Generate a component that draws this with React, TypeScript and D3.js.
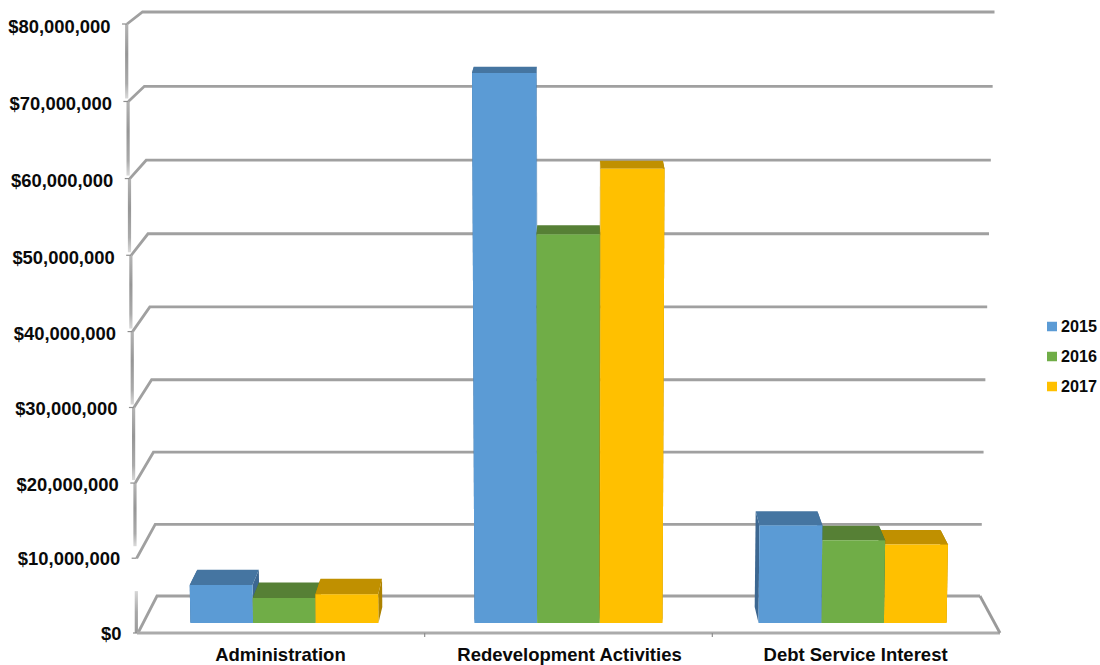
import React from "react";
import * as d3 from "d3";

const categories = ["Administration", "Redevelopment Activities", "Debt Service Interest"];
const categoryLabelNudge = [-4, 1, 3];
const years = ["2015", "2016", "2017"];
const values2015 = [5150000, 73200000, 13200000];
const values2016 = [3400000, 52000000, 11200000];
const values2017 = [3900000, 60650000, 10600000];
const seriesValues = [values2015, values2016, values2017];
const valueTicks = [0, 10000000, 20000000, 30000000, 40000000, 50000000, 60000000, 70000000, 80000000];

const frontColors = ["#5B9BD5", "#70AD47", "#FFC000"];
const topColors = ["#4575A1", "#568035", "#C09000"];
const sideColors = ["#3C6791", "#47692C", "#AD8200"];
const gridColor = "#A0A0A0";

const FONT = "'Liberation Sans', Arial, sans-serif";

// Depths within the 3D box: 0 is the front edge of the floor, 1 the back wall.
const BAR_FRONT = 0.27;
const BAR_BACK = 0.7;

const valueScale = d3.scaleLinear().domain([0, 80000000]).range([0, 1]);
const easeHeight = (t: number) => (t * 0.98) / (1 - 0.02 * t);

const yFront = d3.scaleLinear().domain([0, 1]).range([633, 24]);
const yBack = d3.scaleLinear().domain([0, 1]).range([596, 12]);
const halfFront = d3.scaleLinear().domain([0, 1]).range([431.5, 442.5]);
const halfBack = d3.scaleLinear().domain([0, 1]).range([411.5, 426]);
const centerX = 568.5;

// Project a point (u along the category axis, value, depth) on to the page.
function project(u: number, value: number, depth: number): [number, number] {
  const t = easeHeight(valueScale(value));
  const y = yFront(t) + (yBack(t) - yFront(t)) * depth;
  const half = halfFront(t) + (halfBack(t) - halfFront(t)) * depth;
  return [centerX + (u * 2 - 1) * half, y];
}

const outerBand = d3.scaleBand<string>().domain(categories).range([0, 1]);
const innerBand = d3
  .scaleBand<string>()
  .domain(years)
  .range([outerBand.bandwidth() * 0.169, outerBand.bandwidth() * 0.831]);

const legendY = d3.scaleLinear().domain([0, 2]).range([326.5, 386.5]);
// Baseline offset of the value labels, which sit a little lower on the taller ticks.
const labelDrop = d3.scaleLinear().domain([0, 80000000]).range([7, 9]);

const pathOf = (points: [number, number][]) => d3.line()(points) + "Z";
const money = (v: number) => "$" + d3.format(",")(v);

function Bar({ cat, series }: { cat: number; series: number }) {
  const u0 = outerBand(categories[cat])! + innerBand(years[series])!;
  const u1 = u0 + innerBand.bandwidth();
  const v = seriesValues[series][cat];
  const fbl = project(u0, 0, BAR_FRONT);
  const fbr = project(u1, 0, BAR_FRONT);
  const ftl = project(u0, v, BAR_FRONT);
  const ftr = project(u1, v, BAR_FRONT);
  const btl = project(u0, v, BAR_BACK);
  const btr = project(u1, v, BAR_BACK);
  const bbl = project(u0, 0, BAR_BACK);
  const bbr = project(u1, 0, BAR_BACK);
  return (
    <g>
      <path d={pathOf([fbl, ftl, btl, bbl])} fill={sideColors[series]} />
      <path d={pathOf([fbr, ftr, btr, bbr])} fill={sideColors[series]} />
      <path d={pathOf([ftl, ftr, btr, btl])} fill={topColors[series]} />
      <path d={pathOf([fbl, fbr, ftr, ftl])} fill={frontColors[series]} />
    </g>
  );
}

export default function App() {
  const floorLeft = project(0, 0, 0);
  const floorRight = project(1, 0, 0);
  const floorBackRight = project(1, 0, 1);
  // Bars farther from the centre are painted first so nearer ones overlap them.
  const barOrder: [number, number][] = [
    [0, 0], [0, 1], [0, 2],
    [1, 0], [1, 1], [1, 2],
    [2, 2], [2, 1], [2, 0],
  ];
  return (
    <svg
      width={1100}
      height={665}
      style={{ position: "absolute", left: 0, top: 0, background: "#fff" }}
      fontFamily={FONT}
    >
      <defs>
        <linearGradient id="axisFade" x1="0" y1="0" x2="0" y2="1">
          <stop offset="0" stopColor="#B4B4B4" />
          <stop offset="0.4" stopColor="#969696" />
          <stop offset="0.8" stopColor="#AAAAAA" />
          <stop offset="1" stopColor="#DADADA" />
        </linearGradient>
        <linearGradient id="axisFadeUp" x1="0" y1="1" x2="0" y2="0">
          <stop offset="0" stopColor="#9A9A9A" />
          <stop offset="0.5" stopColor="#A8A8A8" />
          <stop offset="1" stopColor="#D6D6D6" />
        </linearGradient>
      </defs>

      {valueTicks.map((tick) => {
        const a = project(0, tick, 0);
        const b = project(0, tick, 1);
        const c = project(1, tick, 1);
        return (
          <path
            key={tick}
            d={d3.line()([[a[0] + 1, a[1]], b, c])!}
            fill="none"
            stroke={gridColor}
            strokeWidth={2.8}
          />
        );
      })}

      {/* Wall edge: one faded strip per interval; the two lowest stop short of a tick. */}
      {valueTicks.slice(1).map((tick, i) => {
        const top = project(0, tick, 0);
        const bottom = project(0, valueTicks[i], 0);
        const span = bottom[1] - top[1];
        const isLowest = i === 0;
        const isSecond = i === 1;
        const y0 = isLowest ? top[1] + span * 0.44 : top[1];
        const h = isLowest ? span * 0.56 : isSecond ? span - 12 : span - 3;
        return (
          <rect
            key={tick}
            x={(top[0] + bottom[0]) / 2 - 1.6}
            y={y0}
            width={3.2}
            height={h}
            fill={isLowest ? "url(#axisFadeUp)" : "url(#axisFade)"}
          />
        );
      })}

      {valueTicks.map((tick) => {
        const p = project(0, tick, 0);
        return (
          <g key={tick}>
            <line x1={p[0] - 4} x2={p[0] + 1} y1={p[1]} y2={p[1]} stroke="#8E8E8E" strokeWidth={1.2} />
            <text
              x={p[0] - 15.5}
              y={p[1] + labelDrop(tick)}
              textAnchor="end"
              fontSize={18.4}
              fontWeight={700}
              fill="#0a0a0a"
            >
              {money(tick)}
            </text>
          </g>
        );
      })}

      <line x1={floorLeft[0]} x2={floorRight[0]} y1={floorLeft[1]} y2={floorRight[1]} stroke="#ABABAB" strokeWidth={3} />
      <line x1={floorRight[0]} x2={floorBackRight[0]} y1={floorRight[1]} y2={floorBackRight[1]} stroke="#9A9A9A" strokeWidth={2.8} />
      {outerBand.domain().slice(1).map((c) => {
        const p = project(outerBand(c)!, 0, 0);
        return <line key={c} x1={p[0]} x2={p[0]} y1={p[1]} y2={p[1] + 4} stroke="#8E8E8E" strokeWidth={1.2} />;
      })}

      {barOrder.map(([cat, series]) => (
        <Bar key={`${cat}-${series}`} cat={cat} series={series} />
      ))}

      {categories.map((c, i) => {
        const p = project(outerBand(c)! + outerBand.bandwidth() / 2, 0, BAR_FRONT);
        return (
          <text
            key={c}
            x={p[0] + categoryLabelNudge[i]}
            y={661}
            textAnchor="middle"
            fontSize={18.5}
            fontWeight={700}
            fill="#0a0a0a"
          >
            {c}
          </text>
        );
      })}

      {years.map((year, i) => (
        <g key={year}>
          <rect x={1047} y={legendY(i) - 4.75} width={10} height={9.5} fill={frontColors[i]} />
          <text x={1061} y={legendY(i) + 5.5} fontSize={16.2} fontWeight={700} fill="#0a0a0a">
            {year}
          </text>
        </g>
      ))}
    </svg>
  );
}
